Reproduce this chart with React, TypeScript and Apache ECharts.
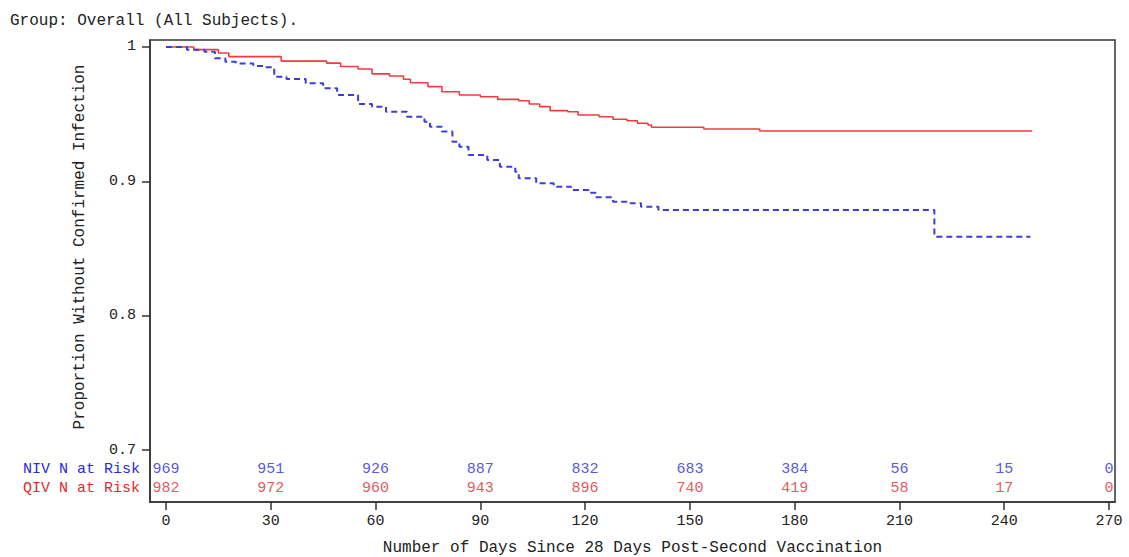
import React, { useEffect, useRef } from "react";
import * as echarts from "echarts";

// ---- Data ----
const qivCurve: [number, number][] = [
  [0, 1], [8, 0.998], [15, 0.9955], [18, 0.9928], [33, 0.9895], [46, 0.988],
  [50, 0.9855], [55, 0.9836], [59, 0.98], [64, 0.9784], [68, 0.976], [70, 0.9734],
  [75, 0.9705], [79, 0.9667], [84, 0.9643], [90, 0.963], [95, 0.961], [101, 0.96],
  [104, 0.9576], [107, 0.9556], [110, 0.9526], [115, 0.9518], [118, 0.9494],
  [124, 0.9481], [128, 0.9462], [132, 0.9451], [135, 0.9432], [138, 0.9419],
  [139, 0.9402], [154, 0.9389], [170, 0.9375], [248, 0.9375],
];

const nivCurve: [number, number][] = [
  [0, 1], [6, 0.998], [11, 0.9965], [14, 0.9916], [17, 0.989], [20, 0.9878],
  [25, 0.9859], [28, 0.9849], [31, 0.9779], [34.5, 0.9762], [40, 0.973],
  [45, 0.9692], [49, 0.9643], [55, 0.9576], [59, 0.9556], [63, 0.9518],
  [69, 0.9481], [74, 0.9444], [75.6, 0.9407], [79, 0.937], [82, 0.9295],
  [84, 0.9258], [86.6, 0.9196], [92, 0.9159], [95.6, 0.9109], [100, 0.9071],
  [101, 0.9022], [106, 0.8985], [111, 0.896], [116, 0.8935], [121, 0.8915],
  [123, 0.8881], [128, 0.8848], [133, 0.8836], [136, 0.8811], [141, 0.8786],
  [220, 0.8588], [247.5, 0.8588],
];

const riskDays = [0, 30, 60, 90, 120, 150, 180, 210, 240, 270];
const nivAtRisk = [969, 951, 926, 887, 832, 683, 384, 56, 15, 0];
const qivAtRisk = [982, 972, 960, 943, 896, 740, 419, 58, 17, 0];
const riskRows = ["NIV N at Risk", "QIV N at Risk"];
const yTicks = [0.7, 0.8, 0.9, 1];

const BLUE = "#2a2ad8";
const RED = "#e02a2f";
const LINE_BLUE = "#3c3cdc";
const LINE_RED = "#ee3c40";
const TEXT = "#222";
const MONO = "'Liberation Mono', 'Courier New', monospace";

export default function App() {
  const ref = useRef<HTMLDivElement>(null);
  useEffect(() => {
    if (!ref.current) return;
    const chart = echarts.init(ref.current, null, { renderer: "svg" });
    const xMin = -4.58;
    const xMax = 271.72;
    chart.setOption({
      animation: false,
      backgroundColor: "#fff",
      title: {
        text: "Group: Overall (All Subjects).",
        left: 10,
        top: 13,
        padding: 0,
        textStyle: { fontFamily: MONO, fontSize: 16, fontWeight: "normal", color: TEXT },
      },
      grid: [
        { left: 150, top: 40, width: 965, height: 462, show: true, borderColor: "#333", borderWidth: 1.5, backgroundColor: "transparent", outerBoundsMode: "none", containLabel: false },
        { left: 150, top: 459.5, width: 965, height: 38, outerBoundsMode: "none", containLabel: false },
      ],
      xAxis: [
        {
          type: "value",
          gridIndex: 0,
          min: xMin,
          max: xMax,
          name: "Number of Days Since 28 Days Post-Second Vaccination",
          nameLocation: "middle",
          nameGap: 38,
          nameTextStyle: { fontFamily: MONO, fontSize: 16, color: TEXT },
          axisLine: { show: true, onZero: false, lineStyle: { color: "#333", width: 1.5 } },
          axisTick: { show: true, length: 8, customValues: riskDays, lineStyle: { color: "#333", width: 1.5 } },
          axisLabel: { customValues: riskDays, margin: 12, fontFamily: MONO, fontSize: 15, color: TEXT },
          splitLine: { show: false },
        },
        {
          type: "value",
          gridIndex: 1,
          min: xMin,
          max: xMax,
          show: false,
        },
      ],
      yAxis: [
        {
          type: "value",
          gridIndex: 0,
          min: 0.6613,
          max: 1.0052,
          axisLine: { show: true, onZero: false, lineStyle: { color: "#333", width: 1.5 } },
          axisTick: { show: true, length: 8, customValues: yTicks, lineStyle: { color: "#333", width: 1.5 } },
          axisLabel: {
            customValues: yTicks,
            margin: 14,
            fontFamily: MONO,
            fontSize: 15,
            color: TEXT,
            formatter: (v: number) => String(Math.round(v * 10) / 10),
          },
          splitLine: { show: false },
        },
        {
          type: "category",
          gridIndex: 1,
          data: riskRows,
          inverse: true,
          axisLine: { show: false },
          axisTick: { show: false },
          splitLine: { show: false },
          axisLabel: {
            interval: 0,
            margin: 10,
            fontFamily: MONO,
            fontSize: 15,
            color: (_v: string, i: number) => (i === 0 ? BLUE : RED),
          },
        },
      ],
      graphic: [
        {
          type: "text",
          x: 80,
          y: 247,
          rotation: Math.PI / 2,
          style: {
            text: "Proportion Without Confirmed Infection",
            fontFamily: MONO,
            fontSize: 16,
            fill: TEXT,
            align: "center",
            verticalAlign: "middle",
          },
        },
      ],
      series: [
        {
          name: "QIV",
          type: "line",
          step: "end",
          xAxisIndex: 0,
          yAxisIndex: 0,
          data: qivCurve,
          showSymbol: false,
          symbol: "none",
          lineStyle: { color: LINE_RED, width: 1.6 },
        },
        {
          name: "NIV",
          type: "line",
          step: "end",
          xAxisIndex: 0,
          yAxisIndex: 0,
          data: nivCurve,
          showSymbol: false,
          symbol: "none",
          lineStyle: { color: LINE_BLUE, width: 2, type: [6, 4] },
        },
        {
          name: "NIV at risk",
          type: "scatter",
          xAxisIndex: 1,
          yAxisIndex: 1,
          symbolSize: 1,
          itemStyle: { color: "rgba(0,0,0,0)" },
          data: riskDays.map((d, i) => [d, 0, nivAtRisk[i]]),
          label: {
            show: true,
            position: "inside",
            formatter: (p: any) => String(p.value[2]),
            fontFamily: MONO,
            fontSize: 15,
            color: BLUE,
          },
        },
        {
          name: "QIV at risk",
          type: "scatter",
          xAxisIndex: 1,
          yAxisIndex: 1,
          symbolSize: 1,
          itemStyle: { color: "rgba(0,0,0,0)" },
          data: riskDays.map((d, i) => [d, 1, qivAtRisk[i]]),
          label: {
            show: true,
            position: "inside",
            formatter: (p: any) => String(p.value[2]),
            fontFamily: MONO,
            fontSize: 15,
            color: RED,
          },
        },
      ],
    });
    return () => chart.dispose();
  }, []);
  return (
    <div
      ref={ref}
      style={{ position: "fixed", left: 0, top: 0, width: 1129, height: 557, background: "#fff" }}
    />
  );
}
